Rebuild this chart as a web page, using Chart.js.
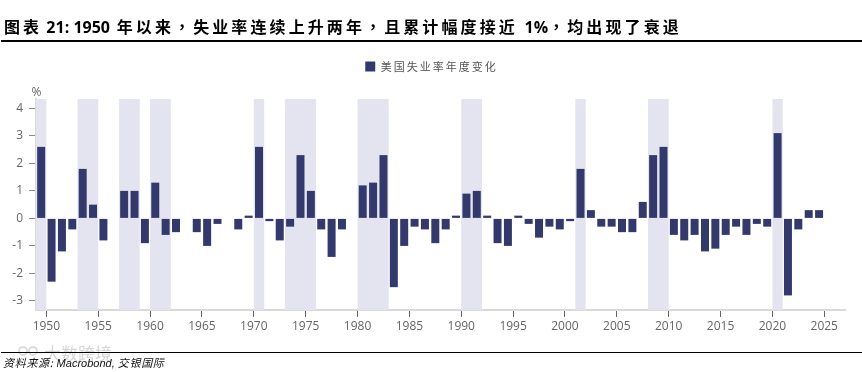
<!DOCTYPE html>
<html>
<head>
<meta charset="utf-8">
<script src="https://cdn.jsdelivr.net/npm/chart.js@4"></script>
<style>
html,body{margin:0;padding:0;background:#fff;}
#wrap{position:relative;width:862px;height:372px;overflow:hidden;}
#chart{position:absolute;left:0;top:0;}
.title{position:absolute;left:4px;top:14px;font:bold 16px "Noto Sans CJK SC",sans-serif;letter-spacing:3.1px;color:#000;white-space:nowrap;line-height:24px;}
.title b{font:bold 16px "Open Sans",sans-serif;letter-spacing:0;}
.title i{font:bold 16px "Noto Sans CJK TC",sans-serif;}
.rule{position:absolute;left:1px;right:0;height:1px;background:#000;}
.source{position:absolute;left:3px;top:355px;font:italic 11px "Liberation Sans",sans-serif;color:#111;white-space:nowrap;line-height:14px;}
.source span{font-family:"Noto Sans CJK SC",sans-serif;letter-spacing:.7px;}
.mark{position:absolute;left:44px;top:343px;font:17px "Noto Sans CJK SC",sans-serif;color:#d6d6d6;white-space:nowrap;line-height:20px;}
.ring{position:absolute;top:346px;width:6px;height:6px;border:2px solid #dcdcdc;border-radius:50%;}
</style>
</head>
<body>
<div id="wrap">
  <canvas id="chart" width="862" height="372"></canvas>
  <div class="title">图表<b> 21: 1950</b> 年以来<i>，</i>失业率连续上升两年<i>，</i>且累计幅度接近 <b>1%</b><i>，</i>均出现了衰退</div>
  <div class="rule" style="top:40px;height:2px"></div>
  <div class="ring" style="left:18px"></div>
  <div class="ring" style="left:28px"></div>
  <div class="mark">大数跨境</div>
  <div class="rule" style="top:352px"></div>
  <div class="source"><span>资料来源:</span> Macrobond, <span>交银国际</span></div>
</div>
<script>
const years = [1950,1951,1952,1953,1954,1955,1956,1957,1958,1959,
  1960,1961,1962,1963,1964,1965,1966,1967,1968,1969,
  1970,1971,1972,1973,1974,1975,1976,1977,1978,1979,
  1980,1981,1982,1983,1984,1985,1986,1987,1988,1989,
  1990,1991,1992,1993,1994,1995,1996,1997,1998,1999,
  2000,2001,2002,2003,2004,2005,2006,2007,2008,2009,
  2010,2011,2012,2013,2014,2015,2016,2017,2018,2019,
  2020,2021,2022,2023,2024,2025];
const changes = [2.6,-2.3,-1.2,-0.4,1.8,0.5,-0.8,0,1.0,1.0,
  -0.9,1.3,-0.6,-0.5,0,-0.5,-1.0,-0.2,0,-0.4,
  0.1,2.6,-0.1,-0.8,-0.3,2.3,1.0,-0.4,-1.4,-0.4,
  0,1.2,1.3,2.3,-2.5,-1.0,-0.3,-0.4,-0.9,-0.4,
  0.1,0.9,1.0,0.1,-0.9,-1.0,0.1,-0.2,-0.7,-0.3,
  -0.4,-0.1,1.8,0.3,-0.3,-0.3,-0.5,-0.5,0.6,2.3,
  2.6,-0.6,-0.8,-0.6,-1.2,-1.1,-0.6,-0.3,-0.6,-0.2,
  -0.3,3.1,-2.8,-0.4,0.3,0.3];
// recession bands, start and end year
const recessions = [[1949,1950],[1953,1955],[1957,1959],[1960,1962],[1970,1971],[1973,1976],
  [1980,1983],[1990,1992],[2001,2002],[2008,2010],[2020,2021]];
const xTicks = [1950,1955,1960,1965,1970,1975,1980,1985,1990,1995,2000,2005,2010,2015,2020,2025];
const yTicks = [-3,-2,-1,0,1,2,3,4];

const BAR = '#333a6b';
const BAND = '#e4e4f1';
const TICK_TEXT = '#666';

// bars sit half a year before the year they belong to
const points = years.map((y,i)=>({x:y-0.5, y:changes[i]}));

const bandsPlugin = {
  id:'bands',
  beforeDatasetsDraw(chart){
    const {ctx, chartArea, scales:{x}} = chart;
    ctx.save();
    ctx.fillStyle = BAND;
    recessions.forEach(r=>{
      const a = x.getPixelForValue(r[0]);
      const b = x.getPixelForValue(r[1]);
      ctx.fillRect(a, chartArea.top, b-a, chartArea.bottom-chartArea.top);
    });
    ctx.restore();
  },
  afterDraw(chart){
    const {ctx} = chart;
    ctx.save();
    ctx.fillStyle = TICK_TEXT;
    ctx.font = '12px "Open Sans"';
    ctx.textAlign = 'center';
    ctx.fillText('%', 36.5, 93);
    ctx.restore();
  }
};

// legend text is spaced out, sits right of centre and leaves a gap down to the plot
const legendTweak = {
  id:'legendTweak',
  beforeInit(chart){
    const legend = chart.legend, ctx = chart.ctx;
    const fit = legend.fit, draw = legend.draw;
    legend.fit = function(){
      ctx.letterSpacing = '2px';
      fit.call(this);
      ctx.letterSpacing = '0px';
      this.height += 17;
    };
    legend.draw = function(){
      ctx.save();
      ctx.translate(9,0);
      ctx.letterSpacing = '2px';
      draw.call(this);
      ctx.restore();
    };
  }
};

new Chart(document.getElementById('chart'), {
  type:'bar',
  data:{
    datasets:[{label:'美国失业率年度变化', data:points, backgroundColor:BAR, barThickness:8, inflateAmount:0}]
  },
  plugins:[bandsPlugin, legendTweak],
  options:{
    responsive:false,
    animation:false,
    layout:{padding:{top:51,right:17,left:0,bottom:0}},
    plugins:{
      tooltip:{enabled:false},
      legend:{
        position:'top',
        labels:{boxWidth:10,boxHeight:10,color:'#555',padding:10,
          font:{family:'"Noto Sans CJK SC"',size:11}}
      }
    },
    scales:{
      x:{
        type:'linear',min:1949,max:2027,offset:false,
        afterBuildTicks(s){ s.ticks = xTicks.map(v=>({value:v})); },
        afterFit(s){ s.height = 62; },
        border:{color:'#d9d9d9',width:2},
        grid:{offset:false,drawOnChartArea:false,drawTicks:true,tickLength:7,tickColor:'#666'},
        ticks:{color:TICK_TEXT,font:{family:'"Open Sans"',size:12},maxRotation:0,autoSkip:false,padding:2,
          callback:v=>String(v)}
      },
      y:{
        min:-3.33,max:4.34,
        afterBuildTicks(s){ s.ticks = yTicks.map(v=>({value:v})); },
        afterFit(s){ s.width = 36; },
        border:{color:'#d9d9d9',width:2},
        grid:{drawOnChartArea:false,drawTicks:true,tickLength:7,tickColor:'#888'},
        ticks:{color:TICK_TEXT,font:{family:'"Open Sans"',size:12},padding:6,callback:v=>String(v)}
      }
    }
  }
});
</script>
</body>
</html>
